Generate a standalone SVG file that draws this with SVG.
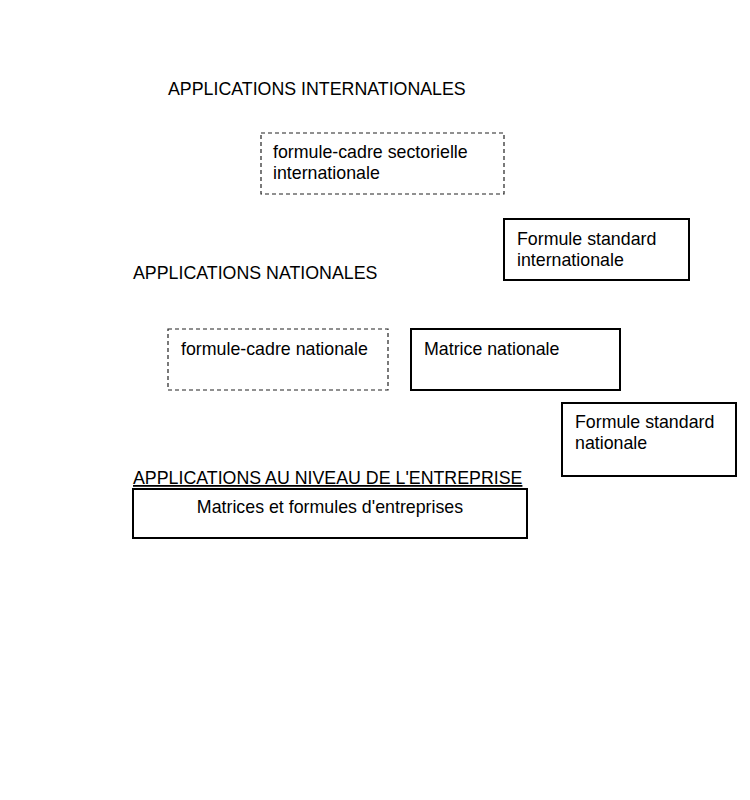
<svg xmlns="http://www.w3.org/2000/svg" width="750" height="800" viewBox="0 0 750 800">
<style>
text{font-family:"Liberation Sans",Arial,sans-serif;font-size:17.8px;fill:#000}
.solid{fill:#fff;stroke:#000;stroke-width:2}
.dash{fill:#fff;stroke:#222;stroke-width:1.2;stroke-dasharray:4,3}
</style>
<rect width="750" height="800" fill="#fff"/>
<g id="labels">
<text x="168" y="95">APPLICATIONS INTERNATIONALES</text>
<text x="133" y="279">APPLICATIONS NATIONALES</text>
<text x="133" y="484" text-decoration="underline">APPLICATIONS AU NIVEAU DE L'ENTREPRISE</text>
</g>
<g id="connectors"></g>
<g id="n1"><rect class="dash" x="261" y="133" width="243" height="61"/><text x="273" y="158">formule-cadre sectorielle</text><text x="273" y="179">internationale</text></g>
<g id="n2"><rect class="solid" x="504" y="219" width="185" height="61"/><text x="517" y="245">Formule standard</text><text x="517" y="266">internationale</text></g>
<g id="n3"><rect class="dash" x="168" y="329" width="220" height="61"/><text x="181" y="355">formule-cadre nationale</text></g>
<g id="n4"><rect class="solid" x="411" y="329" width="209" height="61"/><text x="424" y="355">Matrice nationale</text></g>
<g id="n5"><rect class="solid" x="562" y="403" width="174" height="73"/><text x="575" y="428">Formule standard</text><text x="575" y="449">nationale</text></g>
<g id="n6"><rect class="solid" x="133" y="489" width="394" height="49"/><text x="330" y="513" text-anchor="middle">Matrices et formules d'entreprises</text></g>
</svg>
